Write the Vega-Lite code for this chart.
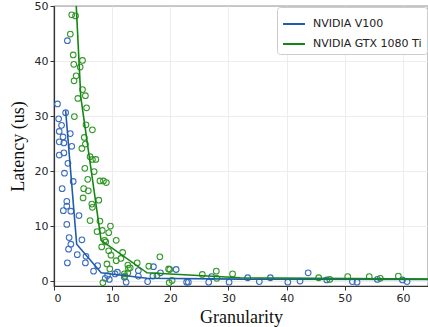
{
  "$schema": "https://vega.github.io/schema/vega-lite/v6.json",
  "autosize": {"type": "none"},
  "padding": {"left": 54, "top": 6, "right": 0, "bottom": 41},
  "width": 374,
  "height": 280,
  "config": {
    "view": {"stroke": "#333333", "strokeWidth": 1.2},
    "axis": {
      "labelFont": "DejaVu Sans", "labelFontSize": 11, "labelColor": "#262626",
      "titleFont": "Liberation Serif", "titleFontSize": 18, "titleFontWeight": "normal", "titleColor": "#111111",
      "domainColor": "#333333", "domainWidth": 1.2,
      "tickColor": "#333333", "tickSize": 4, "tickWidth": 1,
      "gridColor": "#e8e8e8", "gridWidth": 0.8
    },
    "legend": {"labelFont": "DejaVu Sans", "labelFontSize": 11, "labelColor": "#222222"}
  },
  "datasets": {
    "pts": [
      {"g": "NVIDIA V100", "x": 2.3, "y": 43.7},
      {"g": "NVIDIA V100", "x": 0.6, "y": 32.2},
      {"g": "NVIDIA V100", "x": 0.8, "y": 29.5},
      {"g": "NVIDIA V100", "x": 1.3, "y": 28.3},
      {"g": "NVIDIA V100", "x": 0.9, "y": 27.2},
      {"g": "NVIDIA V100", "x": 1.55, "y": 26.2},
      {"g": "NVIDIA V100", "x": 0.9, "y": 25.3},
      {"g": "NVIDIA V100", "x": 1.7, "y": 25.1},
      {"g": "NVIDIA V100", "x": 2.8, "y": 26.8},
      {"g": "NVIDIA V100", "x": 3.05, "y": 24.5},
      {"g": "NVIDIA V100", "x": 0.9, "y": 22.9},
      {"g": "NVIDIA V100", "x": 1.7, "y": 23.3},
      {"g": "NVIDIA V100", "x": 2.0, "y": 30.6},
      {"g": "NVIDIA V100", "x": 2.4, "y": 21.4},
      {"g": "NVIDIA V100", "x": 1.8, "y": 19.6},
      {"g": "NVIDIA V100", "x": 1.4, "y": 16.8},
      {"g": "NVIDIA V100", "x": 3.3, "y": 18.1},
      {"g": "NVIDIA V100", "x": 1.6, "y": 12.8},
      {"g": "NVIDIA V100", "x": 2.2, "y": 14.5},
      {"g": "NVIDIA V100", "x": 2.2, "y": 13.6},
      {"g": "NVIDIA V100", "x": 2.9, "y": 12.7},
      {"g": "NVIDIA V100", "x": 4.3, "y": 11.9},
      {"g": "NVIDIA V100", "x": 2.2, "y": 10.3},
      {"g": "NVIDIA V100", "x": 2.6, "y": 7.9},
      {"g": "NVIDIA V100", "x": 2.9, "y": 6.7},
      {"g": "NVIDIA V100", "x": 2.5, "y": 5.8},
      {"g": "NVIDIA V100", "x": 4.8, "y": 7.5},
      {"g": "NVIDIA V100", "x": 2.3, "y": 3.3},
      {"g": "NVIDIA V100", "x": 4.0, "y": 4.8},
      {"g": "NVIDIA V100", "x": 5.5, "y": 4.5},
      {"g": "NVIDIA V100", "x": 5.4, "y": 3.3},
      {"g": "NVIDIA V100", "x": 6.8, "y": 1.8},
      {"g": "NVIDIA V100", "x": 7.5, "y": 2.8},
      {"g": "NVIDIA V100", "x": 8.8, "y": 0.5},
      {"g": "NVIDIA V100", "x": 9.2, "y": 1.0},
      {"g": "NVIDIA V100", "x": 9.5, "y": 0.3},
      {"g": "NVIDIA V100", "x": 10.5, "y": 1.3},
      {"g": "NVIDIA V100", "x": 10.9, "y": 1.6},
      {"g": "NVIDIA V100", "x": 12.1, "y": 0.7},
      {"g": "NVIDIA V100", "x": 12.4, "y": -0.2},
      {"g": "NVIDIA V100", "x": 14.5, "y": 1.9},
      {"g": "NVIDIA V100", "x": 14.5, "y": 0.9},
      {"g": "NVIDIA V100", "x": 16.1, "y": -0.1},
      {"g": "NVIDIA V100", "x": 17.0, "y": 0.9},
      {"g": "NVIDIA V100", "x": 17.1, "y": 2.6},
      {"g": "NVIDIA V100", "x": 18.3, "y": 1.5},
      {"g": "NVIDIA V100", "x": 21.0, "y": 2.1},
      {"g": "NVIDIA V100", "x": 22.8, "y": -0.2},
      {"g": "NVIDIA V100", "x": 23.1, "y": -0.2},
      {"g": "NVIDIA V100", "x": 26.6, "y": -0.2},
      {"g": "NVIDIA V100", "x": 27.1, "y": 0.8},
      {"g": "NVIDIA V100", "x": 30.1, "y": -0.2},
      {"g": "NVIDIA V100", "x": 33.3, "y": 0.6},
      {"g": "NVIDIA V100", "x": 35.3, "y": -0.1},
      {"g": "NVIDIA V100", "x": 37.2, "y": 0.6},
      {"g": "NVIDIA V100", "x": 40.2, "y": -0.2},
      {"g": "NVIDIA V100", "x": 42.3, "y": 0.0},
      {"g": "NVIDIA V100", "x": 43.7, "y": 1.5},
      {"g": "NVIDIA V100", "x": 46.9, "y": 0.2},
      {"g": "NVIDIA V100", "x": 51.3, "y": -0.1},
      {"g": "NVIDIA V100", "x": 52.1, "y": -0.2},
      {"g": "NVIDIA V100", "x": 55.6, "y": 0.3},
      {"g": "NVIDIA V100", "x": 59.9, "y": 0.2},
      {"g": "NVIDIA V100", "x": 60.7, "y": -0.1},
      {"g": "NVIDIA GTX 1080 Ti", "x": 3.05, "y": 48.4},
      {"g": "NVIDIA GTX 1080 Ti", "x": 3.7, "y": 48.2},
      {"g": "NVIDIA GTX 1080 Ti", "x": 2.8, "y": 44.9},
      {"g": "NVIDIA GTX 1080 Ti", "x": 3.3, "y": 41.1},
      {"g": "NVIDIA GTX 1080 Ti", "x": 4.9, "y": 40.1},
      {"g": "NVIDIA GTX 1080 Ti", "x": 3.4, "y": 39.4},
      {"g": "NVIDIA GTX 1080 Ti", "x": 4.5, "y": 38.9},
      {"g": "NVIDIA GTX 1080 Ti", "x": 3.8, "y": 37.3},
      {"g": "NVIDIA GTX 1080 Ti", "x": 3.45, "y": 36.4},
      {"g": "NVIDIA GTX 1080 Ti", "x": 4.9, "y": 34.8},
      {"g": "NVIDIA GTX 1080 Ti", "x": 5.4, "y": 33.7},
      {"g": "NVIDIA GTX 1080 Ti", "x": 4.1, "y": 33.2},
      {"g": "NVIDIA GTX 1080 Ti", "x": 5.6, "y": 31.5},
      {"g": "NVIDIA GTX 1080 Ti", "x": 3.5, "y": 29.9},
      {"g": "NVIDIA GTX 1080 Ti", "x": 5.5, "y": 28.4},
      {"g": "NVIDIA GTX 1080 Ti", "x": 6.6, "y": 27.5},
      {"g": "NVIDIA GTX 1080 Ti", "x": 5.2, "y": 26.1},
      {"g": "NVIDIA GTX 1080 Ti", "x": 5.4, "y": 24.9},
      {"g": "NVIDIA GTX 1080 Ti", "x": 4.8, "y": 24.1},
      {"g": "NVIDIA GTX 1080 Ti", "x": 6.2, "y": 22.6},
      {"g": "NVIDIA GTX 1080 Ti", "x": 6.6, "y": 22.1},
      {"g": "NVIDIA GTX 1080 Ti", "x": 7.2, "y": 22.1},
      {"g": "NVIDIA GTX 1080 Ti", "x": 6.9, "y": 19.9},
      {"g": "NVIDIA GTX 1080 Ti", "x": 5.3, "y": 20.5},
      {"g": "NVIDIA GTX 1080 Ti", "x": 5.8, "y": 18.5},
      {"g": "NVIDIA GTX 1080 Ti", "x": 7.9, "y": 18.2},
      {"g": "NVIDIA GTX 1080 Ti", "x": 8.5, "y": 18.2},
      {"g": "NVIDIA GTX 1080 Ti", "x": 9.0, "y": 17.9},
      {"g": "NVIDIA GTX 1080 Ti", "x": 5.1, "y": 16.8},
      {"g": "NVIDIA GTX 1080 Ti", "x": 5.9, "y": 16.4},
      {"g": "NVIDIA GTX 1080 Ti", "x": 5.0, "y": 15.1},
      {"g": "NVIDIA GTX 1080 Ti", "x": 7.7, "y": 14.7},
      {"g": "NVIDIA GTX 1080 Ti", "x": 6.5, "y": 14.0},
      {"g": "NVIDIA GTX 1080 Ti", "x": 6.6, "y": 13.4},
      {"g": "NVIDIA GTX 1080 Ti", "x": 6.2, "y": 11.0},
      {"g": "NVIDIA GTX 1080 Ti", "x": 7.9, "y": 10.9},
      {"g": "NVIDIA GTX 1080 Ti", "x": 9.7, "y": 10.0},
      {"g": "NVIDIA GTX 1080 Ti", "x": 7.4, "y": 9.0},
      {"g": "NVIDIA GTX 1080 Ti", "x": 8.3, "y": 9.2},
      {"g": "NVIDIA GTX 1080 Ti", "x": 9.4, "y": 8.8},
      {"g": "NVIDIA GTX 1080 Ti", "x": 8.7, "y": 7.4},
      {"g": "NVIDIA GTX 1080 Ti", "x": 8.9, "y": 7.1},
      {"g": "NVIDIA GTX 1080 Ti", "x": 10.7, "y": 7.4},
      {"g": "NVIDIA GTX 1080 Ti", "x": 8.2, "y": 6.2},
      {"g": "NVIDIA GTX 1080 Ti", "x": 9.4, "y": 5.5},
      {"g": "NVIDIA GTX 1080 Ti", "x": 9.8, "y": 4.7},
      {"g": "NVIDIA GTX 1080 Ti", "x": 11.8, "y": 5.2},
      {"g": "NVIDIA GTX 1080 Ti", "x": 10.7, "y": 3.7},
      {"g": "NVIDIA GTX 1080 Ti", "x": 11.5, "y": 4.1},
      {"g": "NVIDIA GTX 1080 Ti", "x": 9.1, "y": 3.1},
      {"g": "NVIDIA GTX 1080 Ti", "x": 9.6, "y": 2.2},
      {"g": "NVIDIA GTX 1080 Ti", "x": 12.7, "y": 2.9},
      {"g": "NVIDIA GTX 1080 Ti", "x": 12.8, "y": 2.3},
      {"g": "NVIDIA GTX 1080 Ti", "x": 13.1, "y": 2.4},
      {"g": "NVIDIA GTX 1080 Ti", "x": 12.7, "y": 1.5},
      {"g": "NVIDIA GTX 1080 Ti", "x": 12.1, "y": 1.3},
      {"g": "NVIDIA GTX 1080 Ti", "x": 12.2, "y": 0.9},
      {"g": "NVIDIA GTX 1080 Ti", "x": 14.3, "y": 3.3},
      {"g": "NVIDIA GTX 1080 Ti", "x": 16.3, "y": 2.7},
      {"g": "NVIDIA GTX 1080 Ti", "x": 18.2, "y": 4.4},
      {"g": "NVIDIA GTX 1080 Ti", "x": 17.7, "y": 1.0},
      {"g": "NVIDIA GTX 1080 Ti", "x": 19.7, "y": 2.2},
      {"g": "NVIDIA GTX 1080 Ti", "x": 19.9, "y": 2.1},
      {"g": "NVIDIA GTX 1080 Ti", "x": 19.8, "y": -0.3},
      {"g": "NVIDIA GTX 1080 Ti", "x": 20.3, "y": 0.1},
      {"g": "NVIDIA GTX 1080 Ti", "x": 8.4, "y": -0.3},
      {"g": "NVIDIA GTX 1080 Ti", "x": 25.5, "y": 1.2},
      {"g": "NVIDIA GTX 1080 Ti", "x": 27.9, "y": 1.8},
      {"g": "NVIDIA GTX 1080 Ti", "x": 28.0, "y": 0.5},
      {"g": "NVIDIA GTX 1080 Ti", "x": 30.7, "y": 1.3},
      {"g": "NVIDIA GTX 1080 Ti", "x": 45.5, "y": 0.6},
      {"g": "NVIDIA GTX 1080 Ti", "x": 47.4, "y": 0.3},
      {"g": "NVIDIA GTX 1080 Ti", "x": 50.5, "y": 0.8},
      {"g": "NVIDIA GTX 1080 Ti", "x": 54.2, "y": 0.8},
      {"g": "NVIDIA GTX 1080 Ti", "x": 56.1, "y": 0.5},
      {"g": "NVIDIA GTX 1080 Ti", "x": 59.2, "y": 0.9}
    ],
    "lines": [
      {"g": "NVIDIA V100", "x": 2.0, "y": 31.0},
      {"g": "NVIDIA V100", "x": 3.9, "y": 6.7},
      {"g": "NVIDIA V100", "x": 8.1, "y": 1.5},
      {"g": "NVIDIA V100", "x": 16.0, "y": 0.5},
      {"g": "NVIDIA V100", "x": 32.0, "y": 0.35},
      {"g": "NVIDIA V100", "x": 64.3, "y": 0.3},
      {"g": "NVIDIA GTX 1080 Ti", "x": 3.45, "y": 58.0},
      {"g": "NVIDIA GTX 1080 Ti", "x": 4.6, "y": 33.5},
      {"g": "NVIDIA GTX 1080 Ti", "x": 8.1, "y": 7.4},
      {"g": "NVIDIA GTX 1080 Ti", "x": 16.0, "y": 1.5},
      {"g": "NVIDIA GTX 1080 Ti", "x": 32.0, "y": 0.6},
      {"g": "NVIDIA GTX 1080 Ti", "x": 64.3, "y": 0.35}
    ]
  },
  "layer": [
    {
      "data": {"name": "pts"},
      "mark": {"type": "point", "shape": "circle", "filled": false, "size": 32, "strokeWidth": 1.1, "opacity": 1, "clip": true},
      "encoding": {
        "x": {"field": "x", "type": "quantitative"},
        "y": {"field": "y", "type": "quantitative"},
        "color": {"field": "g", "type": "nominal", "legend": null,
          "scale": {"domain": ["NVIDIA V100", "NVIDIA GTX 1080 Ti"], "range": ["#3b6cc0", "#35982a"]}}
      }
    },
    {
      "data": {"name": "lines"},
      "mark": {"type": "line", "strokeWidth": 1.6, "clip": true},
      "encoding": {
        "x": {"field": "x", "type": "quantitative",
          "scale": {"domain": [0, 64.3], "nice": false, "zero": false},
          "axis": {"title": "Granularity", "values": [0, 10, 20, 30, 40, 50, 60], "titlePadding": 5}},
        "y": {"field": "y", "type": "quantitative",
          "scale": {"domain": [-0.9, 50], "nice": false, "zero": false},
          "axis": {"title": "Latency (us)", "values": [0, 5, 10, 15, 20, 25, 30, 35, 40, 45, 50], "titlePadding": 7}},
        "color": {"field": "g", "type": "nominal",
          "scale": {"domain": ["NVIDIA V100", "NVIDIA GTX 1080 Ti"], "range": ["#1f5cab", "#138613"]},
          "legend": {"title": null, "orient": "top-right", "offset": 1, "symbolType": "stroke", "symbolStrokeWidth": 2,
            "symbolSize": 480, "strokeColor": "#cccccc", "fillColor": "white", "cornerRadius": 3,
            "padding": 5, "rowPadding": 3, "labelOffset": 7}}
      }
    }
  ],
  "resolve": {"scale": {"color": "independent"}}
}
